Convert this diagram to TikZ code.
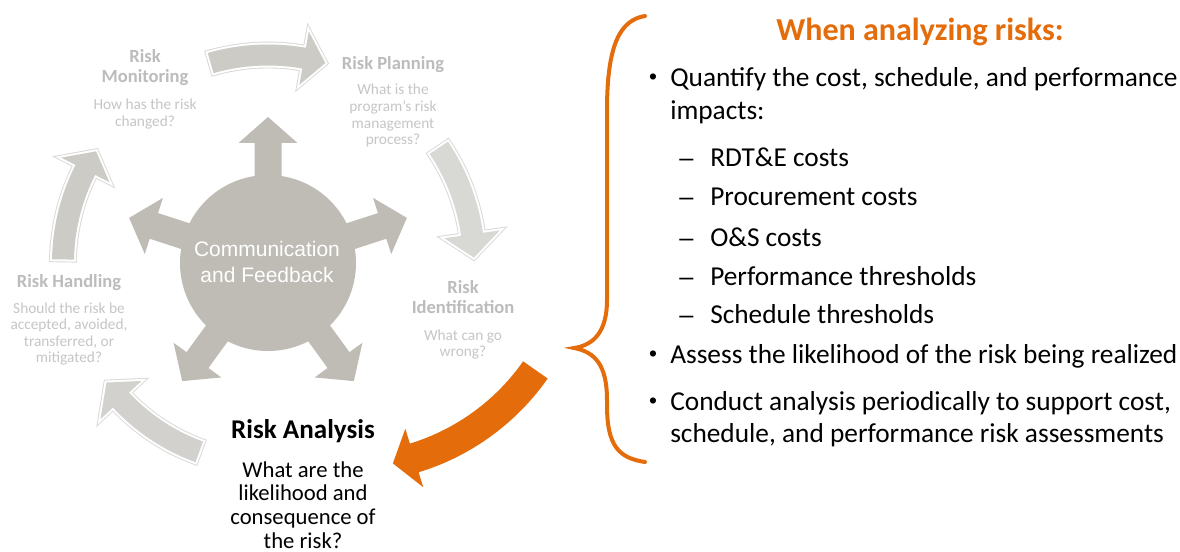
\documentclass[tikz,border=0pt]{standalone}
\usepackage{fontspec}
\setmainfont{Carlito}
\newfontfamily\hubfont{Liberation Sans}
\definecolor{orng}{RGB}{228,108,10}
\definecolor{hubgray}{RGB}{190,188,181}
\definecolor{arrA}{RGB}{204,203,197}
\definecolor{arrB}{RGB}{216,216,212}
\definecolor{arrC}{RGB}{210,209,205}
\definecolor{faded}{RGB}{198,198,198}
\definecolor{fadedt}{RGB}{188,188,188}
\newcommand\lns[2]{\begin{tabular}[t]{@{}#1@{}}#2\end{tabular}}
% curved arrow: cx cy r w W t0 tb tt style
\newcommand\curvarrow[9]{%
  \path[#9] plot[domain=#6:#7, samples=40] ({#1+(#3+#4/2)*cos(\x)},{#2+(#3+#4/2)*sin(\x)})
    -- ({#1+(#3+#5/2)*cos(#7)},{#2+(#3+#5/2)*sin(#7)})
    -- ({#1+#3*cos(#8)},{#2+#3*sin(#8)})
    -- ({#1+(#3-#5/2)*cos(#7)},{#2+(#3-#5/2)*sin(#7)})
    -- plot[domain=#7:#6, samples=40] ({#1+(#3-#4/2)*cos(\x)},{#2+(#3-#4/2)*sin(\x)})
    -- cycle;}
\begin{document}
\begin{tikzpicture}[x=0.75pt, y=-0.75pt,
  glow/.style={line join=miter, preaction={draw=black!15, line width=4.4pt}, preaction={draw=white, line width=3pt}},
  txt/.style={inner sep=0pt, anchor=base},
  stt/.style={txt, text=fadedt, font=\fontsize{13.9pt}{15pt}\selectfont\bfseries},
  stb/.style={txt, text=faded, font=\fontsize{11.5pt}{12.4pt}\selectfont},
  rbody/.style={txt, anchor=base west, font=\fontsize{20.5pt}{24.4pt}\selectfont},
  rbullet/.style={txt, font=\hubfont\fontsize{17pt}{19pt}\selectfont},
  rdash/.style={txt, anchor=base west, font=\hubfont\fontsize{19pt}{22pt}\selectfont}]
\useasboundingbox (0,0) rectangle (1180,552);
\fill[white] (0,0) rectangle (1180,552);

% cycle arrows
\curvarrow{268}{263}{208}{21}{54}{254}{280}{286}{fill=arrA, glow}
\curvarrow{268}{263}{206}{22}{56}{326}{352}{358.5}{fill=arrB, glow}
\curvarrow{268}{263}{201}{22}{56}{110}{137}{143.5}{fill=arrC, glow}
\curvarrow{268}{263}{205}{22}{54}{181}{207}{213}{fill=arrA, glow}
\curvarrow{347}{238}{230}{30}{61}{35}{73}{78.5}{fill=orng}

% hub
\fill[hubgray] (268,263) circle[radius=88];
\foreach \a in {270,342,54,126,198}{
  \pgfmathsetmacro\c{cos(\a)}
  \pgfmathsetmacro\s{sin(\a)}
  \fill[hubgray] ({268+13.5*\s},{263-13.5*\c})
    -- ({268+120*\c+13.5*\s},{263+120*\s-13.5*\c})
    -- ({268+120*\c+29.5*\s},{263+120*\s-29.5*\c})
    -- ({268+146*\c},{263+146*\s})
    -- ({268+120*\c-29.5*\s},{263+120*\s+29.5*\c})
    -- ({268+120*\c-13.5*\s},{263+120*\s+13.5*\c})
    -- ({268-13.5*\s},{263+13.5*\c}) -- cycle;
}
\node[txt, text=white, font=\hubfont\fontsize{15.75pt}{18.75pt}\selectfont] (hubtext) at (267,257) {\lns{c}{Communication\\and Feedback}};

% stage labels
\node[stt] (montitle) at (145,63) {\lns{c}{Risk\\Monitoring}};
\node[stb] (monbody) at (145,110) {\lns{c}{How has the risk\\changed?}};
\node[stt] (platitle) at (393,70) {Risk Planning};
\node[stb] (plabody) at (393,95) {\lns{c}{What is the\\program’s risk\\management\\process?}};
\node[stt] (idetitle) at (463,293) {\lns{c}{Risk\\Identification}};
\node[stb] (idebody) at (463,340) {\lns{c}{What can go\\wrong?}};
\node[stt] (hantitle) at (69,287) {Risk Handling};
\node[stb] (hanbody) at (69,313) {\lns{c}{Should the risk be\\accepted, avoided,\\transferred, or\\mitigated?}};
\node[txt, font=\fontsize{20.3pt}{22pt}\selectfont\bfseries] (antitle) at (303,438) {Risk Analysis};
\node[txt, font=\fontsize{17pt}{17.8pt}\selectfont] (anbody) at (303,477) {\lns{c}{What are the\\likelihood and\\consequence of\\the risk?}};

% brace
\draw[orng, line width=3pt, line cap=round] (645,16) .. controls (620,20) and (607,45) .. (607,110)
  -- (607,300) .. controls (607,330) and (595,345) .. (574,348)
  .. controls (595,352) and (607,365) .. (607,400)
  -- (607,405) .. controls (607,445) and (618,458) .. (645,462);

% right text
\node[txt, text=orng, font=\fontsize{24pt}{28pt}\selectfont\bfseries] (rtitle) at (920,41) {When analyzing risks:};
\node[rbullet] (b1) at (653,85) {•};
\node[rbody] (item1) at (670,87) {\lns{l}{Quantify the cost, schedule, and performance\\impacts:}};
\node[rdash] (d1) at (679,167) {–};
\node[rbody] (sub1) at (710,167) {RDT\&E costs};
\node[rdash] (d2) at (679,206) {–};
\node[rbody] (sub2) at (710,206) {Procurement costs};
\node[rdash] (d3) at (679,246) {–};
\node[rbody] (sub3) at (710,246) {O\&S costs};
\node[rdash] (d4) at (679,285) {–};
\node[rbody] (sub4) at (710,285) {Performance thresholds};
\node[rdash] (d5) at (679,323) {–};
\node[rbody] (sub5) at (710,323) {Schedule thresholds};
\node[rbullet] (b2) at (653,361) {•};
\node[rbody] (item2) at (670,363) {Assess the likelihood of the risk being realized};
\node[rbullet] (b3) at (653,408) {•};
\node[rbody] (item3) at (670,410) {\lns{l}{Conduct analysis periodically to support cost,\\schedule, and performance risk assessments}};
\end{tikzpicture}
\end{document}
